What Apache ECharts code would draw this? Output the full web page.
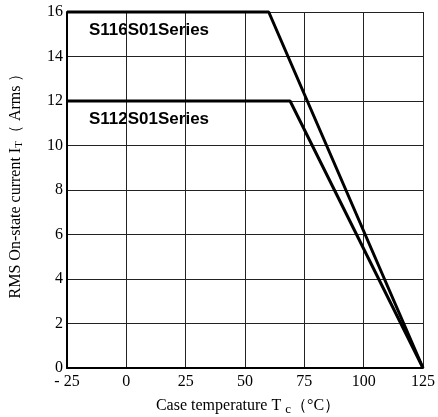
<!DOCTYPE html>
<html>
<head>
<meta charset="utf-8">
<script src="https://cdn.jsdelivr.net/npm/echarts@6/dist/echarts.min.js"></script>
<style>html,body{margin:0;padding:0;background:#fff;}#c{width:438px;height:417px;}</style>
</head>
<body>
<div id="c"></div>
<script>
// Data
const temps116 = [-25, 60, 125];
const current116 = [16, 16, 0];
const temps112 = [-25, 69, 125];
const current112 = [12, 12, 0];
const seriesNames = ['S116S01Series', 'S112S01Series'];
const xTicks = { min: -25, max: 125, interval: 25 };
const yTicks = { min: 0, max: 16, interval: 2 };

const serif = '"Liberation Serif", "Times New Roman", serif';
const sans = '"Liberation Sans", Arial, sans-serif';

const chart = echarts.init(document.getElementById('c'), null, { renderer: 'canvas' });
chart.setOption({
  animation: false,
  backgroundColor: '#fff',
  grid: { left: 67, right: 15, top: 12, bottom: 49, containLabel: false },
  xAxis: {
    type: 'value', min: xTicks.min, max: xTicks.max, interval: xTicks.interval,
    axisLine: { onZero: false, lineStyle: { color: '#000', width: 2 } },
    axisTick: { show: false },
    axisLabel: { color: '#000', fontFamily: serif, fontSize: 16, margin: 6,
      formatter: v => v < 0 ? '- ' + Math.abs(v) : String(v) },
    splitLine: { show: true, lineStyle: { color: '#222', width: 1 } }
  },
  yAxis: {
    type: 'value', min: yTicks.min, max: yTicks.max, interval: yTicks.interval,
    axisLine: { show: true, onZero: false, lineStyle: { color: '#000', width: 2 } },
    axisTick: { show: false },
    axisLabel: { color: '#000', fontFamily: serif, fontSize: 16, margin: 4 },
    splitLine: { show: true, lineStyle: { color: '#222', width: 1 } }
  },
  series: [
    { name: seriesNames[0], type: 'line', clip: false, symbol: 'none',
      data: temps116.map((t, i) => [t, current116[i]]),
      lineStyle: { color: '#000', width: 3 } },
    { name: seriesNames[1], type: 'line', clip: false, symbol: 'none',
      data: temps112.map((t, i) => [t, current112[i]]),
      lineStyle: { color: '#000', width: 3 } }
  ],
  graphic: [
    { type: 'text', left: 89, top: 22, style: { text: seriesNames[0], fill: '#000',
        font: 'bold 17px ' + sans } },
    { type: 'text', left: 89, top: 111, style: { text: seriesNames[1], fill: '#000',
        font: 'bold 17px ' + sans } },
    { type: 'text', x: 16, y: 182, rotation: Math.PI / 2,
      style: { text: 'RMS On-state current I{sub|T}（ Arms ）', fill: '#000',
        font: '16px ' + serif, align: 'center', verticalAlign: 'middle',
        rich: { sub: { fontSize: 11, fontFamily: serif, fill: '#000', padding: [6, 0, 0, 0] } } } },
    { type: 'text', x: 248, y: 406,
      style: { text: 'Case temperature T {sub|c}（°C）', fill: '#000',
        font: '16px ' + serif, align: 'center', verticalAlign: 'middle',
        rich: { sub: { fontSize: 13, fontFamily: serif, fill: '#000', padding: [8, 0, 0, 0] } } } }
  ]
});
</script>
</body>
</html>
